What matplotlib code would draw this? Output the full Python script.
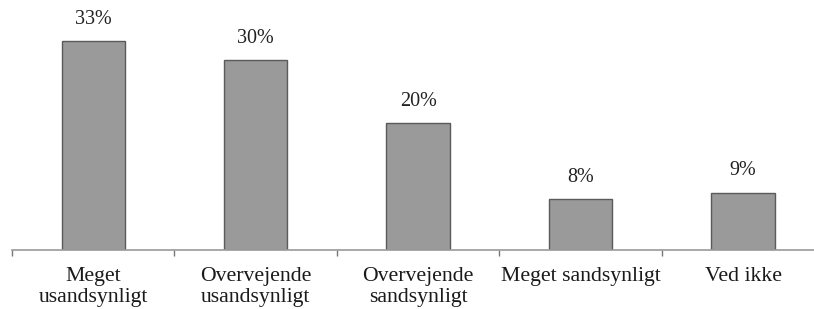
import numpy as np
import matplotlib.pyplot as plt

categories = ["Meget\nusandsynligt", "Overvejende\nusandsynligt", "Overvejende\nsandsynligt",
              "Meget sandsynligt", "Ved ikke"]
values = [33, 30, 20, 8, 9]
labels = ["33%", "30%", "20%", "8%", "9%"]

plt.rcParams["font.family"] = ["Liberation Serif", "DejaVu Serif"]

fig = plt.figure(figsize=(8.14, 3.09), dpi=100)
ax = fig.add_axes([0.0147, 0.191, 0.998, 0.778])

x = np.arange(len(categories))
bars = ax.bar(x, values, width=0.39, color="#9a9a9a", edgecolor="#5a5a5a", linewidth=1)

# percentage labels above the bars
for b, lab in zip(bars, labels):
    ax.text(b.get_x() + b.get_width() / 2, b.get_height() + 2.0, lab,
            ha="center", va="bottom", fontsize=14.5, color="#222222")

ax.set_xlim(-0.5, len(categories) - 0.5)
ax.set_ylim(0, 38)
ax.set_xticks(x)
ax.set_xticklabels(categories, fontsize=15.7, color="#1a1a1a", linespacing=1.2)
ax.set_xticks(np.arange(len(categories) + 1) - 0.5, minor=True)
ax.tick_params(axis="x", which="major", length=0, pad=12)
ax.tick_params(axis="x", which="minor", length=4, color="#777777", width=1)
ax.set_yticks([])

for s in ["top", "right", "left"]:
    ax.spines[s].set_visible(False)
ax.spines["bottom"].set_color("#9a9a9a")
ax.spines["bottom"].set_linewidth(1.2)

plt.savefig("out.png", dpi=100)
plt.close()
